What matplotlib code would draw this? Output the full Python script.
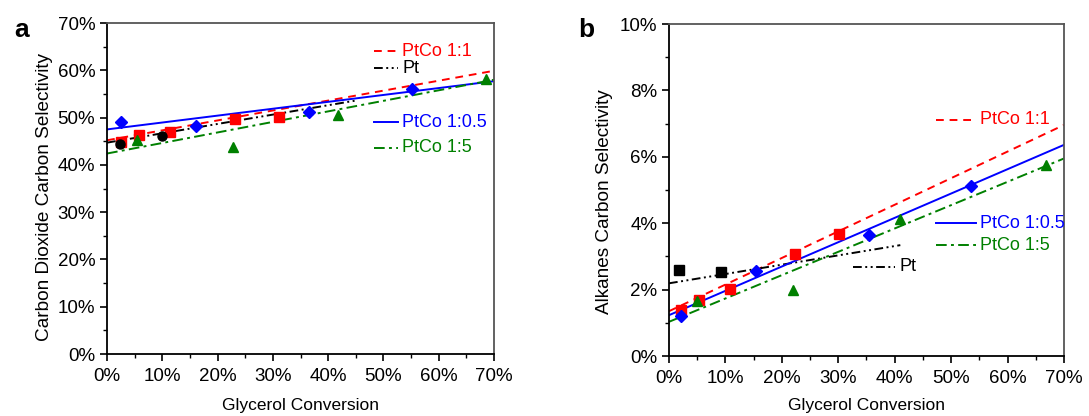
import matplotlib
matplotlib.use("Agg")
import matplotlib.pyplot as plt
from matplotlib.ticker import PercentFormatter, MultipleLocator

plt.rcParams['font.family'] = ['Liberation Sans', 'DejaVu Sans']

# ---- panel a: CO2 carbon selectivity (%) vs glycerol conversion (%)
a_ptco11_x = [2.5, 5.8, 11.4, 23.2, 31.1]
a_ptco11_y = [44.9, 46.4, 47.0, 49.8, 50.2]
a_pt_x = [2.3, 9.9]
a_pt_y = [44.5, 46.1]
a_ptco105_x = [2.5, 16.1, 36.6, 55.2]
a_ptco105_y = [49.0, 48.2, 51.2, 56.0]
a_ptco15_x = [5.5, 22.8, 41.8, 68.5]
a_ptco15_y = [45.3, 43.7, 50.5, 58.1]

# fitted trend lines: (x_start, x_end), (y_start, y_end)
a_fit_ptco11 = ([0, 70], [45.2, 59.9])
a_fit_pt = ([0, 45], [44.7, 53.6])
a_fit_ptco105 = ([0, 70], [47.5, 57.7])
a_fit_ptco15 = ([0, 70], [42.4, 58.0])

# ---- panel b: alkanes carbon selectivity (%)
b_ptco11_x = [2.1, 5.4, 10.8, 22.4, 30.1]
b_ptco11_y = [1.39, 1.69, 2.01, 3.07, 3.69]
b_pt_x = [1.8, 9.3]
b_pt_y = [2.59, 2.52]
b_ptco105_x = [2.1, 15.5, 35.5, 53.6]
b_ptco105_y = [1.20, 2.57, 3.66, 5.12]
b_ptco15_x = [5.0, 22.0, 40.9, 66.8]
b_ptco15_y = [1.67, 1.99, 4.12, 5.75]

b_fit_ptco11 = ([0, 70], [1.35, 6.96])
b_fit_pt = ([0, 41], [2.19, 3.34])
b_fit_ptco105 = ([0, 70], [1.23, 6.36])
b_fit_ptco15 = ([0, 70], [1.03, 5.95])

RED, BLUE, GREEN, BLACK = '#ff0000', '#0000ff', '#008000', '#000000'
DASH = (0, (4, 3))
DASHDOTDOT = (0, (4.5, 1.8, 1, 1.8, 1, 1.8))
DASHDOT = (0, (5.5, 2.2, 1.5, 2.2))
LW = 1.4
TICK_FS = 13.5
LEG_FS = 13

fig = plt.figure(figsize=(10.89, 4.16), dpi=100)
ax_a = fig.add_axes([0.0983, 0.149, 0.3554, 0.7957])
ax_b = fig.add_axes([0.6143, 0.1442, 0.3627, 0.798])


def style_axes(ax, ymax, ymajor, yminor):
    ax.set_xlim(0, 70)
    ax.set_ylim(0, ymax)
    ax.xaxis.set_major_locator(MultipleLocator(10))
    ax.xaxis.set_minor_locator(MultipleLocator(5))
    ax.yaxis.set_major_locator(MultipleLocator(ymajor))
    ax.yaxis.set_minor_locator(MultipleLocator(yminor))
    ax.xaxis.set_major_formatter(PercentFormatter(100, decimals=0))
    ax.yaxis.set_major_formatter(PercentFormatter(100, decimals=0))
    ax.tick_params(which='major', direction='out', length=5, width=1.2, labelsize=TICK_FS)
    ax.tick_params(axis='x', which='major', pad=5)
    ax.tick_params(which='minor', direction='out', length=3, width=1.0)
    for side in ['left', 'bottom']:
        ax.spines[side].set_linewidth(1.3)
    for side in ['top', 'right']:
        ax.spines[side].set_linewidth(1.3)
        ax.spines[side].set_color('#555555')
    ax.set_xlabel('Glycerol Conversion', fontsize=12.5)


def draw_series(ax, x, y, fit, color, ls, marker, ms):
    ax.plot(fit[0], fit[1], color=color, linestyle=ls, linewidth=LW, zorder=2)
    ax.plot(x, y, linestyle='none', marker=marker, color=color, markersize=ms, zorder=3)


def legend_item(ax, x0, x1, y, label, color, ls):
    ax.plot([x0, x1], [y, y], color=color, linestyle=ls, linewidth=LW, clip_on=False)
    ax.text(x1 + 0.8, y, label, color=color, fontsize=LEG_FS, va='center', ha='left')


# panel a
style_axes(ax_a, 70, 10, 5)
draw_series(ax_a, a_ptco11_x, a_ptco11_y, a_fit_ptco11, RED, DASH, 's', 6.5)
draw_series(ax_a, a_pt_x, a_pt_y, a_fit_pt, BLACK, DASHDOTDOT, 'o', 6.5)
draw_series(ax_a, a_ptco105_x, a_ptco105_y, a_fit_ptco105, BLUE, '-', 'D', 6.5)
draw_series(ax_a, a_ptco15_x, a_ptco15_y, a_fit_ptco15, GREEN, DASHDOT, '^', 7.5)
legend_item(ax_a, 48.2, 52.6, 64.0, 'PtCo 1:1', RED, DASH)
legend_item(ax_a, 48.2, 52.6, 60.4, 'Pt', BLACK, DASHDOTDOT)
legend_item(ax_a, 48.2, 52.6, 49.0, 'PtCo 1:0.5', BLUE, '-')
legend_item(ax_a, 48.2, 52.6, 43.6, 'PtCo 1:5', GREEN, DASHDOT)
ax_a.set_ylabel('Carbon Dioxide Carbon Selectivity', fontsize=13.7)
ax_a.yaxis.set_label_coords(-0.14, 0.473)
ax_a.xaxis.set_label_coords(0.5, -0.133)
fig.text(14 / 1089, 1 - 30 / 416, 'a', fontsize=19, fontweight='bold', va='center')

# panel b
style_axes(ax_b, 10, 2, 1)
draw_series(ax_b, b_ptco11_x, b_ptco11_y, b_fit_ptco11, RED, DASH, 's', 6.5)
draw_series(ax_b, b_pt_x, b_pt_y, b_fit_pt, BLACK, DASHDOTDOT, 's', 6.5)
draw_series(ax_b, b_ptco105_x, b_ptco105_y, b_fit_ptco105, BLUE, '-', 'D', 6.5)
draw_series(ax_b, b_ptco15_x, b_ptco15_y, b_fit_ptco15, GREEN, DASHDOT, '^', 7.5)
legend_item(ax_b, 47.4, 54.4, 7.11, 'PtCo 1:1', RED, DASH)
legend_item(ax_b, 47.4, 54.4, 4.00, 'PtCo 1:0.5', BLUE, '-')
legend_item(ax_b, 47.4, 54.4, 3.34, 'PtCo 1:5', GREEN, DASHDOT)
legend_item(ax_b, 32.6, 40.0, 2.69, 'Pt', BLACK, DASHDOTDOT)
ax_b.set_ylabel('Alkanes Carbon Selectivity', fontsize=13.7)
ax_b.yaxis.set_label_coords(-0.142, 0.464)
ax_b.xaxis.set_label_coords(0.5, -0.127)
fig.text(578 / 1089, 1 - 30 / 416, 'b', fontsize=19, fontweight='bold', va='center')

fig.savefig('out.png', dpi=100)
